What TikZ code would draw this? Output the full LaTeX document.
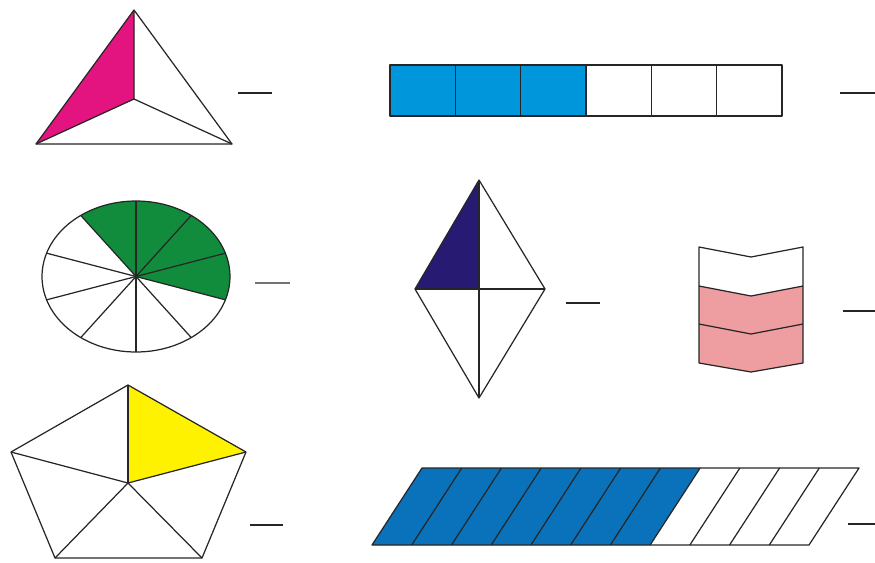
\documentclass[tikz,border=0pt]{standalone}
\usepackage{tikz}
\usepackage[dvipsnames]{xcolor}

\definecolor{magentapart}{HTML}{E3147F}
\definecolor{barblue}{HTML}{0096DB}
\definecolor{piegreen}{HTML}{118C3C}
\definecolor{kitenavy}{HTML}{261A73}
\definecolor{chevpink}{HTML}{EE9DA0}
\definecolor{pentyellow}{HTML}{FFF200}
\definecolor{slantblue}{HTML}{0A72BA}

\begin{document}
\begin{tikzpicture}[x=0.02cm, y=-0.02cm,
	edge/.style={draw=black!85, line width=0.7pt, line join=round},
	blank/.style={draw=black!85, line width=0.8pt}]
	\useasboundingbox (0,0) rectangle (875,562);
	% Triangle
	\coordinate (ta) at (134,10);
	\coordinate (tb) at (36,144);
	\coordinate (tc) at (232,144);
	\coordinate (to) at (134,99);
	\fill[magentapart] (ta) -- (tb) -- (to) -- cycle;
	\draw[edge] (ta) -- (tb) -- (tc) -- cycle;
	\draw[edge] (ta) -- (to) (tb) -- (to) (tc) -- (to);
	\draw[blank] (238,93) -- (272,93);
	% Bar of six squares
	\fill[barblue] (390,65) rectangle (586,116);
	\draw[edge] (390,65) rectangle (782,116);
	\foreach \i in {1,...,5}{
		\draw[edge] ({390+\i*65.33},65) -- ({390+\i*65.33},116);
	}
	\draw[blank] (840,93) -- (875,93);
	% Ellipse cut into ten parts
	\coordinate (eo) at (136,276.5);
	\fill[piegreen] (eo) -- plot[domain=126:-18, samples=40] ({136+94*cos(\x)},{276.5-75.5*sin(\x)}) -- cycle;
	\draw[edge] (eo) ellipse [x radius=1.88cm, y radius=1.51cm];
	\foreach \a in {18,54,...,342}{
		\draw[edge] (eo) -- ({136+94*cos(\a)},{276.5-75.5*sin(\a)});
	}
	\draw[blank, black!55] (255,283) -- (290,283);
	% Kite
	\coordinate (ka) at (479,180);
	\coordinate (kb) at (415,289);
	\coordinate (kc) at (479,398);
	\coordinate (kd) at (545,289);
	\coordinate (ko) at (479,289);
	\fill[kitenavy] (ka) -- (kb) -- (ko) -- cycle;
	\draw[edge] (ka) -- (kb) -- (kc) -- (kd) -- cycle;
	\draw[edge] (ka) -- (kc) (kb) -- (kd);
	\draw[blank] (566,303) -- (600,303);
	% Chevron of three bands
	\fill[chevpink] (699,286) -- (751,296) -- (803,286) -- (803,363) -- (751,372) -- (699,363) -- cycle;
	\draw[edge] (699,247) -- (751,257) -- (803,247) -- (803,363) -- (751,372) -- (699,363) -- cycle;
	\foreach \y in {286,324}{
		\draw[edge] (699,\y) -- (751,\y+10) -- (803,\y);
	}
	\draw[blank] (843,311) -- (875,311);
	% Pentagon
	\coordinate (pa) at (128,385);
	\coordinate (pb) at (246,452);
	\coordinate (pc) at (202,558);
	\coordinate (pd) at (55,558);
	\coordinate (pe) at (11,452);
	\coordinate (po) at (128,483);
	\fill[pentyellow] (pa) -- (pb) -- (po) -- cycle;
	\draw[edge] (pa) -- (pb) -- (pc) -- (pd) -- (pe) -- cycle;
	\foreach \p in {pa,pb,pc,pd,pe}{
		\draw[edge] (po) -- (\p);
	}
	\draw[blank] (250,525) -- (283,525);
	% Slanted strip of eleven parts
	\fill[slantblue] (422,468) -- ({422+7*39.73},468) -- ({372+7*39.73},545) -- (372,545) -- cycle;
	\draw[edge] (422,468) -- (859,468) -- (809,545) -- (372,545) -- cycle;
	\foreach \i in {1,...,10}{
		\draw[edge] ({422+\i*39.73},468) -- ({372+\i*39.73},545);
	}
	\draw[blank] (848,524) -- (875,524);
\end{tikzpicture}
\end{document}
